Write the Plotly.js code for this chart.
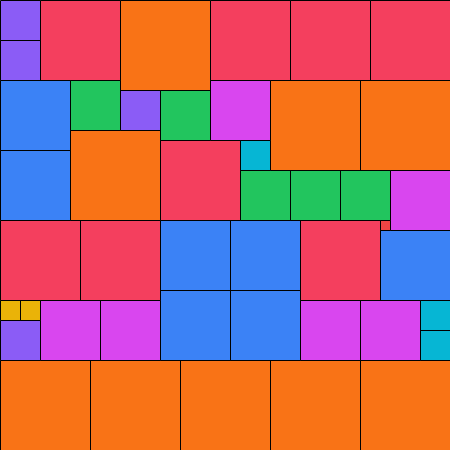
<!DOCTYPE html>
<html>
<head>
<meta charset="utf-8">
<script src="https://cdn.plot.ly/plotly-3.0.1.min.js"></script>
<style>html,body{margin:0;padding:0;background:#fff;}#chart{width:450px;height:450px;}</style>
</head>
<body>
<div id="chart"></div>
<script>
// Square tiles: left edge, top edge, side length (grid units), category
const tileX    = [0,0,4,12,21,29,37, 0,0,7,12,16,21,27,36,7,16,24,24,29,34,39,38, 0,8,16,23,16,23,30,38, 0,2,0,4,10,30,36,42,42, 0,9,18,27,36];
const tileY    = [0,4,0,0,0,0,0, 8,15,8,9,9,8,8,8,13,14,14,17,17,17,17,22, 22,22,22,22,29,29,22,23, 30,30,32,30,30,30,30,30,33, 36,36,36,36,36];
const tileSize = [4,4,8,9,8,8,8, 7,7,5,4,5,6,9,9,9,8,3,5,5,5,6,1, 8,8,7,7,7,7,8,7, 2,2,4,6,6,6,6,3,3, 9,9,9,9,9];
const tileCat  = ["purple","purple","rose","orange","rose","rose","rose",
  "blue","blue","green","purple","green","magenta","orange","orange","orange","rose","cyan","green","green","green","magenta","red",
  "rose","rose","blue","blue","blue","blue","rose","blue",
  "yellow","yellow","purple","magenta","magenta","magenta","magenta","cyan","cyan",
  "orange","orange","orange","orange","orange"];
const categories = ["rose","orange","purple","blue","green","magenta","cyan","yellow","red"];
const catColors  = ["#F43F5E","#F97316","#8B5CF6","#3B82F6","#22C55E","#D946EF","#06B6D4","#EAB308","#EF4444"];

const traces = categories.map((c, ci) => {
  const xs = [], ys = [];
  tileCat.forEach((t, i) => {
    if (t !== c) return;
    const x0 = tileX[i], y0 = tileY[i], s = tileSize[i];
    xs.push(x0, x0 + s, x0 + s, x0, x0, null);
    ys.push(y0, y0, y0 + s, y0 + s, y0, null);
  });
  return {
    type: "scatter", mode: "lines", x: xs, y: ys,
    fill: "toself", fillcolor: catColors[ci],
    line: {color: "#000", width: 1},
    hoverinfo: "skip", showlegend: false, name: c
  };
});

const ax = {visible: false, showgrid: false, zeroline: false, fixedrange: true};
Plotly.newPlot("chart", traces, {
  width: 450, height: 450,
  margin: {l: 0, r: 0, t: 0, b: 0, pad: 0},
  paper_bgcolor: "#fff", plot_bgcolor: "#fff",
  xaxis: Object.assign({range: [-0.05, 44.95]}, ax),
  yaxis: Object.assign({range: [44.95, -0.05]}, ax),
  showlegend: false
}, {staticPlot: true});
</script>
</body>
</html>
